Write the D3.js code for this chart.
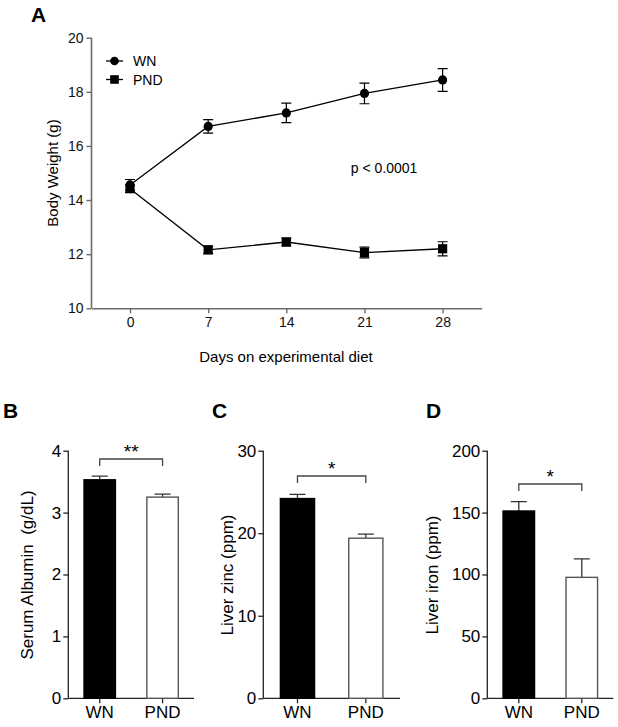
<!DOCTYPE html>
<html><head><meta charset="utf-8">
<script src="https://cdn.jsdelivr.net/npm/d3@7"></script>
<style>
html,body{margin:0;padding:0;background:#fff;}
svg{display:block;font-family:"Liberation Sans",Arial,sans-serif;}
</style></head>
<body>
<svg id="c" width="618" height="727"></svg>
<script>
// Panel A data
const days = [0, 7, 14, 21, 28];
const wnWeight = [14.56, 16.72, 17.22, 17.94, 18.44];
const wnWeightErr = [0.2, 0.25, 0.36, 0.38, 0.42];
const pndWeight = [14.42, 12.16, 12.45, 12.06, 12.2];
const pndWeightErr = [0.14, 0.14, 0.14, 0.2, 0.26];
const weightTicks = [10, 12, 14, 16, 18, 20];

// Bar panels data
const groups = ["WN", "PND"];
const albumin = [3.53, 3.25];
const albuminErr = [0.06, 0.05];
const albuminTicks = [0, 1, 2, 3, 4];
const zinc = [24.2, 19.4];
const zincErr = [0.5, 0.48];
const zincTicks = [0, 10, 20, 30];
const iron = [151.3, 97.7];
const ironErr = [7.5, 15];
const ironTicks = [0, 50, 100, 150, 200];

const svg = d3.select("#c");

// ---------- Panel A ----------
const axisGray = "#6b6b6b";
const xA = d3.scaleLinear().domain([-3.45, 31.5]).range([91.5, 481.7]);
const yA = d3.scaleLinear().domain([10, 20]).range([308.3, 37.7]);
const gA = svg.append("g");

gA.append("text").attr("x", 31).attr("y", 22).attr("font-size", 21).attr("font-weight", "bold").text("A");

const yAxisA = gA.append("g").attr("transform", `translate(${xA.range()[0]},0)`)
  .call(d3.axisLeft(yA).tickValues(weightTicks).tickSize(5).tickPadding(3).tickFormat(d3.format("d")));
const xAxisA = gA.append("g").attr("transform", `translate(0,${yA.range()[0]})`)
  .call(d3.axisBottom(xA).tickValues(days).tickSize(5).tickPadding(4).tickSizeOuter(0));
[yAxisA, xAxisA].forEach(a => {
  a.select(".domain").attr("stroke", axisGray).attr("stroke-width", 1.6);
  a.selectAll(".tick line").attr("stroke", axisGray).attr("stroke-width", 1.4);
  a.selectAll(".tick text").attr("font-size", 14).attr("fill", "#111").attr("font-family", "Liberation Sans, Arial, sans-serif");
});
yAxisA.select(".domain").attr("d", `M0,${yA.range()[1]}V${yA.range()[0]}`);

gA.append("text").attr("transform", `translate(58,173) rotate(-90)`).attr("text-anchor", "middle")
  .attr("font-size", 15).text("Body Weight (g)");
gA.append("text").attr("x", 286).attr("y", 362).attr("text-anchor", "middle").attr("font-size", 15)
  .text("Days on experimental diet");
gA.append("text").attr("x", 384).attr("y", 173).attr("text-anchor", "middle").attr("font-size", 14).text("p < 0.0001");

function drawSeries(vals, errs, shape) {
  const line = d3.line().x((d, i) => xA(days[i])).y(d => yA(d));
  gA.append("path").attr("d", line(vals)).attr("fill", "none").attr("stroke", "#000").attr("stroke-width", 1.3);
  vals.forEach((v, i) => {
    const x = xA(days[i]);
    const y1 = yA(v + errs[i]), y2 = yA(v - errs[i]);
    gA.append("path").attr("d", `M${x},${y1}V${y2}M${x - 5},${y1}H${x + 5}M${x - 5},${y2}H${x + 5}`)
      .attr("stroke", "#000").attr("stroke-width", 1.2).attr("fill", "none");
    if (shape === "circle") gA.append("circle").attr("cx", x).attr("cy", yA(v)).attr("r", 4.6).attr("fill", "#000");
    else gA.append("rect").attr("x", x - 4.6).attr("y", yA(v) - 4.6).attr("width", 9.2).attr("height", 9.2).attr("fill", "#000");
  });
}
drawSeries(wnWeight, wnWeightErr, "circle");
drawSeries(pndWeight, pndWeightErr, "square");

// legend
const legend = [["WN", "circle", 61], ["PND", "square", 79.5]];
legend.forEach(([name, shape, y]) => {
  gA.append("line").attr("x1", 106).attr("x2", 123).attr("y1", y).attr("y2", y).attr("stroke", "#000").attr("stroke-width", 1.3);
  if (shape === "circle") gA.append("circle").attr("cx", 114.5).attr("cy", y).attr("r", 4.3).attr("fill", "#000");
  else gA.append("rect").attr("x", 110.2).attr("y", y - 4.3).attr("width", 8.6).attr("height", 8.6).attr("fill", "#000");
  gA.append("text").attr("x", 133).attr("y", y + 5).attr("font-size", 14).text(name);
});

// ---------- Bar panels ----------
function barPanel(opt) {
  const g = svg.append("g");
  const y = d3.scaleLinear().domain([0, opt.max]).range([698.3, 450.7]);
  const x = d3.scaleBand().domain(groups).range([opt.x0, opt.x1]).paddingInner(0.5).paddingOuter(0.25);
  g.append("text").attr("x", opt.letterX).attr("y", 418).attr("font-size", 21).attr("font-weight", "bold").text(opt.letter);
  const ya = g.append("g").attr("transform", `translate(${opt.axisX},0)`)
    .call(d3.axisLeft(y).tickValues(opt.ticks).tickSize(5).tickPadding(2).tickSizeOuter(0).tickFormat(d3.format("d")));
  ya.select(".domain").attr("d", `M0,${y.range()[1]}V${y.range()[0]}`);
  const xa = g.append("g").attr("transform", `translate(0,${y.range()[0]})`)
    .call(d3.axisBottom(x).tickSize(5).tickPadding(3).tickSizeOuter(0));
  xa.select(".domain").attr("d", `M${opt.axisX},0H${opt.axisEnd}`);
  [ya, xa].forEach(a => {
    a.select(".domain").attr("stroke", "#222").attr("stroke-width", 1.3);
    a.selectAll(".tick line").attr("stroke", "#222").attr("stroke-width", 1.3);
    a.selectAll(".tick text").attr("font-size", 17).attr("fill", "#000").attr("font-family", "Liberation Sans, Arial, sans-serif");
  });
  g.append("text").attr("transform", `translate(${opt.labelX},575) rotate(-90)`).attr("text-anchor", "middle")
    .attr("font-size", 17).style("white-space", "pre").text(opt.label);
  groups.forEach((k, i) => {
    const cx = x(k) + x.bandwidth() / 2;
    const top = y(opt.vals[i] + opt.errs[i]);
    g.append("path").attr("d", `M${cx},${y(opt.vals[i])}V${top}M${cx - 8},${top}H${cx + 8}`)
      .attr("stroke", "#333").attr("stroke-width", 1.3).attr("fill", "none");
    g.append("rect").attr("x", x(k)).attr("y", y(opt.vals[i])).attr("width", x.bandwidth())
      .attr("height", y(0) - y(opt.vals[i]))
      .attr("fill", i === 0 ? "#000" : "#fff").attr("stroke", i === 0 ? "#000" : "#555").attr("stroke-width", 1.4);
  });
  const bx1 = x("WN") + x.bandwidth() / 2, bx2 = x("PND") + x.bandwidth() / 2;
  g.append("path").attr("d", `M${bx1},${opt.brY + 7}V${opt.brY}H${bx2}V${opt.brY + 7}`)
    .attr("stroke", "#444").attr("stroke-width", 1.3).attr("fill", "none");
  g.append("text").attr("x", (bx1 + bx2) / 2).attr("y", opt.brY - 1).attr("text-anchor", "middle")
    .attr("font-size", 19).text(opt.star);
}

barPanel({letter: "B", letterX: 3, axisX: 68.3, axisEnd: 194, x0: 68.3, x1: 194, max: 4, ticks: albuminTicks,
  vals: albumin, errs: albuminErr, label: "Serum Albumin  (g/dL)", labelX: 33, brY: 459, star: "**"});
barPanel({letter: "C", letterX: 212, axisX: 263.3, axisEnd: 400, x0: 263.3, x1: 400, max: 30, ticks: zincTicks,
  vals: zinc, errs: zincErr, label: "Liver zinc (ppm)", labelX: 233, brY: 476, star: "*"});
barPanel({letter: "D", letterX: 426, axisX: 487.3, axisEnd: 613.3, x0: 487.3, x1: 613.3, max: 200, ticks: ironTicks,
  vals: iron, errs: ironErr, label: "Liver iron (ppm)", labelX: 438, brY: 484, star: "*"});
</script>
</body></html>
